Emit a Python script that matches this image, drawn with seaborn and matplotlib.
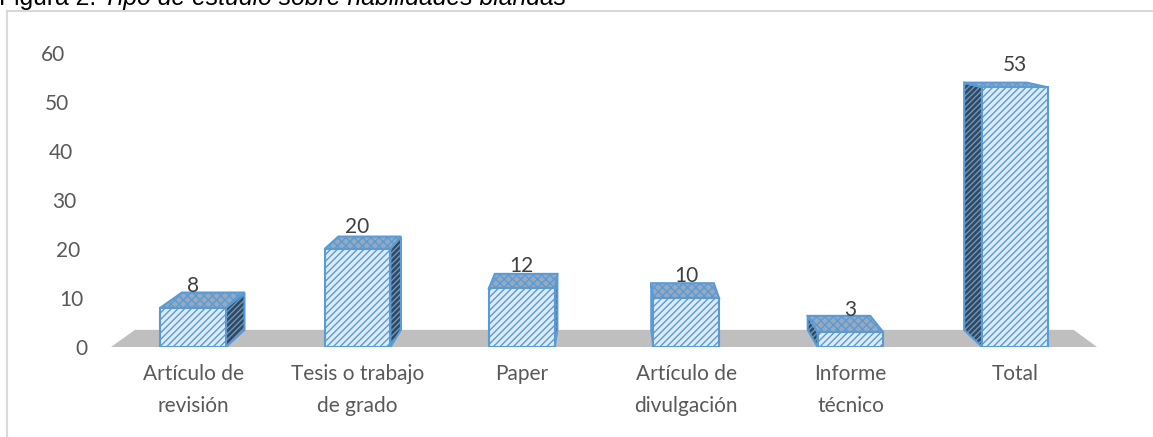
import matplotlib
matplotlib.use("Agg")
import matplotlib.pyplot as plt
import matplotlib.transforms as mtransforms
from matplotlib.patches import Polygon, Rectangle
import seaborn as sns

# -----------------------------
# Data
# -----------------------------
categories = ["Artículo de\nrevisión", "Tesis o trabajo\nde grado", "Paper",
              "Artículo de\ndivulgación", "Informe\ntécnico", "Total"]
values = [8, 20, 12, 10, 3, 53]
yticks = [0, 10, 20, 30, 40, 50, 60]

title_plain = "Figura 2. "
title_italic = "Tipo de estudio sobre habilidades blandas"

# -----------------------------
# Style
# -----------------------------
sns.set_theme(style="white")
plt.rcParams["font.family"] = ["Lato", "DejaVu Sans"]
plt.rcParams["hatch.linewidth"] = 1.0

front_fill = "#ddebf7"
edge_blue = "#5b9bd5"
side_fill = "#3b4654"
top_fill = "#97a9bd"
floor_gray = "#bfbfbf"
text_gray = "#595959"

# simple perspective: back face = front + k * (vanish - front), data coords
depth_k = 0.048
vanish = (2.54, 72.9)

fig = plt.figure(figsize=(11.53, 4.37), dpi=100)
ax = fig.add_axes([111 / 1153, 90 / 437, 986 / 1153, 294 / 437])

sns.barplot(x=categories, y=values, width=0.4, color=front_fill,
            saturation=1, ax=ax, zorder=5)

ax.set_xlim(-0.5, 5.5)
ax.set_ylim(0, 60)
bars = list(ax.patches)


def back(px, py):
    return (px + depth_k * (vanish[0] - px), py + depth_k * (vanish[1] - py))


# -----------------------------
# Floor and 3D faces
# -----------------------------
x0, x1 = ax.get_xlim()
floor = Polygon([(x0, 0), (x1, 0), back(x1, 0), back(x0, 0)],
                closed=True, facecolor=floor_gray, edgecolor="none", zorder=1)
ax.add_patch(floor)

for bar in bars:
    bx, bw, bh = bar.get_x(), bar.get_width(), bar.get_height()
    fl, fr = bx, bx + bw
    bar.set_edgecolor(edge_blue)
    bar.set_linewidth(1.5)
    bar.set_hatch("/////")
    bar.set_zorder(5)

    top = Polygon([(fl, bh), (fr, bh), back(fr, bh), back(fl, bh)],
                  closed=True, facecolor=top_fill, edgecolor=edge_blue,
                  hatch="xxxx", linewidth=1.5, zorder=4)
    ax.add_patch(top)

    # side face turned towards the viewer
    if fr < vanish[0]:
        sx = fr
    elif fl > vanish[0]:
        sx = fl
    else:
        sx = None
    if sx is not None:
        side = Polygon([(sx, 0), (sx, bh), back(sx, bh), back(sx, 0)],
                       closed=True, facecolor=side_fill, edgecolor=edge_blue,
                       hatch="//////", linewidth=1.5, zorder=3)
        ax.add_patch(side)

# data labels
for i, v in enumerate(values):
    ax.annotate(str(v), (i, v), xytext=(0, 12), textcoords="offset pixels",
                ha="center", va="bottom", fontsize=15, color="#404040",
                zorder=6)

# -----------------------------
# Axes
# -----------------------------
for s in ax.spines.values():
    s.set_visible(False)
ax.set_yticks(yticks)
ax.set_xlabel("")
ax.set_ylabel("")
ax.tick_params(axis="y", length=0, pad=17, labelsize=15, labelcolor=text_gray)
ax.tick_params(axis="x", length=0, pad=12, labelsize=15, labelcolor=text_gray)
for lab in ax.get_xticklabels():
    lab.set_linespacing(1.75)

# y labels drift left as they go up (perspective of the back wall)
for lab, v in zip(ax.get_yticklabels(), yticks):
    shift = mtransforms.ScaledTranslation(-0.22 * v / 60, 0, fig.dpi_scale_trans)
    lab.set_transform(lab.get_transform() + shift)

# chart frame
frame = Rectangle((7 / 1153, -0.2), 1.2, 1.2 - 11 / 437,
                  transform=fig.transFigure, fill=False,
                  edgecolor="#d9d9d9", linewidth=1.5, clip_on=False)
fig.patches.append(frame)

# title, cut off at the top as in the source
t1 = fig.text(-0.001, 1 - 5 / 437, title_plain, family="Liberation Sans",
              fontsize=17.8, color="black", va="baseline", ha="left")
renderer = fig.canvas.get_renderer()
bb = t1.get_window_extent(renderer)
fig.text(bb.x1 / fig.bbox.width, 1 - 5 / 437, title_italic,
         family="Liberation Sans", style="italic", fontsize=17.8,
         color="black", va="baseline", ha="left")

fig.savefig("out.png", dpi=100)
